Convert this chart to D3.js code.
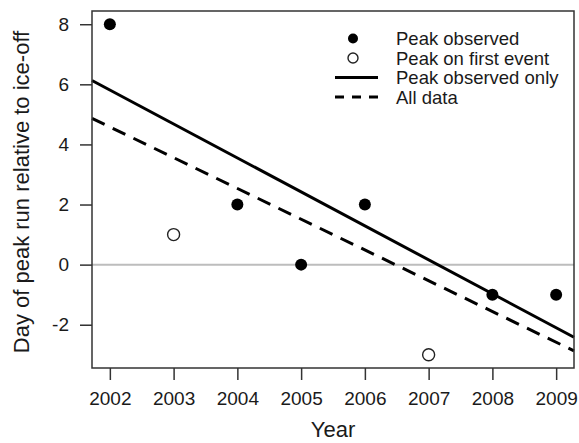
<!DOCTYPE html>
<html>
<head>
<meta charset="utf-8">
<script src="https://cdn.jsdelivr.net/npm/d3@7"></script>
<style>
  body { margin: 0; background: #fff; }
  text { font-family: "Liberation Sans", Arial, sans-serif; fill: #1a1a1a; }
</style>
</head>
<body>
<div id="chart"></div>
<script>
// data
var obsYears = [2002, 2004, 2005, 2006, 2008, 2009];
var obsDays = [8, 2, 0, 2, -1, -1];
var firstYears = [2003, 2007];
var firstDays = [1, -3];
var xTicks = [2002, 2003, 2004, 2005, 2006, 2007, 2008, 2009];
var yTicks = [-2, 0, 2, 4, 6, 8];
var legendLabels = ["Peak observed", "Peak on first event", "Peak observed only", "All data"];

var svgWidth = 579;
var svgHeight = 443;
var margin = { top: 11, right: 5, bottom: 75, left: 92 };
var width = svgWidth - margin.left - margin.right;
var height = svgHeight - margin.top - margin.bottom;

var svg = d3.select("#chart")
  .append("svg")
  .attr("width", svgWidth)
  .attr("height", svgHeight);

var chartGroup = svg.append("g")
  .attr("transform", `translate(${margin.left}, ${margin.top})`);

// R-style 4% padding on both axes
var xLinearScale = d3.scaleLinear()
  .domain([2002 - 0.28, 2009 + 0.28])
  .range([0, width]);

var yLinearScale = d3.scaleLinear()
  .domain([-3 - 0.44, 8 + 0.44])
  .range([height, 0]);

// least squares fit
function fit(xs, ys) {
  var mx = d3.mean(xs), my = d3.mean(ys);
  var sxy = d3.sum(xs, (x, i) => (x - mx) * (ys[i] - my));
  var sxx = d3.sum(xs, x => (x - mx) * (x - mx));
  var b = sxy / sxx;
  return { a: my - b * mx, b: b };
}
var fitObs = fit(obsYears, obsDays);
var fitAll = fit(obsYears.concat(firstYears), obsDays.concat(firstDays));

// zero reference line
chartGroup.append("line")
  .attr("x1", 0).attr("x2", width)
  .attr("y1", yLinearScale(0)).attr("y2", yLinearScale(0))
  .attr("stroke", "#bdbdbd")
  .attr("stroke-width", 2);

var xd = xLinearScale.domain();
function fitLine(f, dash) {
  chartGroup.append("line")
    .attr("x1", xLinearScale(xd[0])).attr("x2", xLinearScale(xd[1]))
    .attr("y1", yLinearScale(f.a + f.b * xd[0]))
    .attr("y2", yLinearScale(f.a + f.b * xd[1]))
    .attr("stroke", "#000")
    .attr("stroke-width", 3)
    .attr("stroke-dasharray", dash);
}
fitLine(fitObs, null);
fitLine(fitAll, "14,9");

// points
chartGroup.selectAll(".obs")
  .data(obsYears)
  .enter()
  .append("circle")
  .attr("class", "obs")
  .attr("cx", d => xLinearScale(d))
  .attr("cy", (d, i) => yLinearScale(obsDays[i]))
  .attr("r", 6)
  .attr("fill", "#000");

chartGroup.selectAll(".first")
  .data(firstYears)
  .enter()
  .append("circle")
  .attr("class", "first")
  .attr("cx", d => xLinearScale(d))
  .attr("cy", (d, i) => yLinearScale(firstDays[i]))
  .attr("r", 6)
  .attr("fill", "#fff")
  .attr("stroke", "#222")
  .attr("stroke-width", 1.4);

// axes (hyphen minus like the original)
var bottomAxis = d3.axisBottom(xLinearScale).tickValues(xTicks).tickFormat(d3.format("d")).tickSize(12).tickPadding(12);
var leftAxis = d3.axisLeft(yLinearScale).tickValues(yTicks).tickFormat(d => String(d)).tickSize(12).tickPadding(11);

var xAxis = chartGroup.append("g")
  .attr("transform", `translate(0, ${height})`)
  .call(bottomAxis);
var yAxis = chartGroup.append("g")
  .call(leftAxis);

[xAxis, yAxis].forEach(function(ax) {
  ax.select(".domain").remove();
  ax.selectAll("line").attr("stroke", "#333").attr("stroke-width", 1.5);
  ax.selectAll("text").attr("font-size", 19).attr("fill", "#1a1a1a")
    .style("font-family", "Liberation Sans, Arial, sans-serif");
});

// box
chartGroup.append("rect")
  .attr("width", width)
  .attr("height", height)
  .attr("fill", "none")
  .attr("stroke", "#333")
  .attr("stroke-width", 1.5);

// axis titles
svg.append("text")
  .attr("x", 333)
  .attr("y", 437)
  .attr("text-anchor", "middle")
  .attr("font-size", 22)
  .text("Year");

svg.append("text")
  .attr("transform", "rotate(-90)")
  .attr("x", -192)
  .attr("y", 29)
  .attr("text-anchor", "middle")
  .attr("font-size", 22)
  .text("Day of peak run relative to ice-off");

// legend
var legend = svg.append("g");
var rowY = [38.5, 58, 77.5, 97];
legendLabels.forEach(function(lab, i) {
  legend.append("text")
    .attr("x", 396)
    .attr("y", rowY[i])
    .attr("dy", "0.36em")
    .attr("font-size", 18.5)
    .text(lab);
});
legend.append("circle").attr("cx", 353).attr("cy", rowY[0]).attr("r", 5).attr("fill", "#000");
legend.append("circle").attr("cx", 353).attr("cy", rowY[1]).attr("r", 5)
  .attr("fill", "#fff").attr("stroke", "#222").attr("stroke-width", 1.4);
legend.append("line").attr("x1", 335).attr("x2", 378).attr("y1", rowY[2]).attr("y2", rowY[2])
  .attr("stroke", "#000").attr("stroke-width", 3);
legend.append("line").attr("x1", 335).attr("x2", 378).attr("y1", rowY[3]).attr("y2", rowY[3])
  .attr("stroke", "#000").attr("stroke-width", 3).attr("stroke-dasharray", "9,8");
</script>
</body>
</html>
